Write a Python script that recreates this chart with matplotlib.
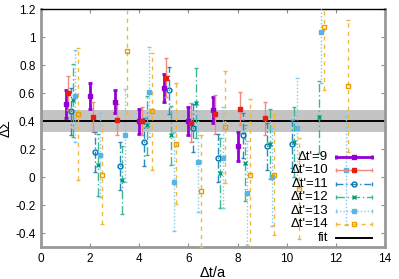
import numpy as np
import matplotlib
matplotlib.use("Agg")
import matplotlib.pyplot as plt

plt.rcParams["font.family"] = ["Liberation Sans", "DejaVu Sans"]
plt.rcParams["font.size"] = 8.5

# series values (Δt starts at 1 for every series)
dt9_val = [0.52, 0.58, 0.54, 0.40, 0.64, 0.40, 0.48, 0.22]
dt9_err = [0.10, 0.09, 0.08, 0.09, 0.10, 0.10, 0.09, 0.10]
dt10_val = [0.60, 0.43, 0.41, 0.40, 0.71, 0.39, 0.45, 0.49, 0.42]
dt10_err = [0.12, 0.11, 0.11, 0.10, 0.14, 0.14, 0.14, 0.12, 0.12]
dt11_val = [0.47, 0.18, 0.08, 0.25, 0.62, 0.35, 0.14, 0.30, 0.22, 0.24]
dt11_err = [0.17, 0.14, 0.17, 0.17, 0.17, 0.17, 0.17, 0.16, 0.17, 0.17]
dt12_val = [0.55, 0.09, -0.02, 0.37, 0.30, 0.53, 0.03, 0.10, 0.24, 0.25, 0.43]
dt12_err = [0.26, 0.22, 0.24, 0.21, 0.21, 0.25, 0.25, 0.27, 0.25, 0.25, 0.26]
dt13_val = [0.58, 0.16, 0.30, 0.61, -0.03, 0.11, 0.14, -0.11, 0.00, 0.35, 1.04, 0.05]
dt13_err = [0.33, 0.30, 0.33, 0.32, 0.35, 0.36, 0.36, 0.37, 0.35, 0.36, 0.37, 0.39]
dt14_val = [0.45, 0.02, 0.90, 0.47, 0.24, -0.10, 0.36, 0.02, 0.02, -0.08, 1.07, 0.65]
dt14_err = [0.47, 0.35, 0.45, 0.42, 0.43, 0.40, 0.40, 0.54, 0.43, 0.36, 0.45, 0.47]

FIT = 0.40
FIT_ERR = 0.08

labels = ["Δt'=9", "Δt'=10", "Δt'=11", "Δt'=12", "Δt'=13", "Δt'=14"]
values = [dt9_val, dt10_val, dt11_val, dt12_val, dt13_val, dt14_val]
errors = [dt9_err, dt10_err, dt11_err, dt12_err, dt13_err, dt14_err]

# style per series: color, errbar color, marker, filled, linestyle, linewidth
styles = [
    dict(c="#9400d3", ec="#9400d3", m="s", ms=3.5, fill=True, ls="-", lw=2.0),
    dict(c="#e51e10", ec="#f08a80", m="s", ms=2.8, fill=True, ls="-", lw=1.0),
    dict(c="#0072b2", ec="#2a88c0", m="o", ms=3.5, fill=False, ls=(0, (5, 2, 1, 2)), lw=1.0),
    dict(c="#009e73", ec="#3cb890", m="x", ms=3.3, fill=False, ls=(0, (6, 2, 1, 2)), lw=1.0),
    dict(c="#56b4e9", ec="#80c8f0", m="s", ms=3.0, fill=True, ls=(0, (1, 1.5)), lw=1.0),
    dict(c="#e69f00", ec="#f0b840", m="s", ms=3.5, fill=False, ls=(0, (3, 3)), lw=1.0),
]


def main() -> int:
    fig = plt.figure(figsize=(3.99, 2.79), dpi=100)
    ax = fig.add_axes([0.1028, 0.1136, 0.8622, 0.8531])

    ax.axhspan(FIT - FIT_ERR, FIT + FIT_ERR, color="#c4c4c4", zorder=1, lw=0)
    ax.axhline(FIT, color="black", lw=1.4, zorder=2)

    for k, (vals, errs, st) in enumerate(zip(values, errors, styles)):
        x = np.arange(1, len(vals) + 1) + 0.1 * k
        eb = ax.errorbar(x, vals, yerr=errs, fmt="none", ecolor=st["ec"],
                         elinewidth=st["lw"], capsize=1.7, capthick=st["lw"], zorder=3)
        eb[2][0].set_linestyle(st["ls"])
        face = st["c"] if st["fill"] else "none"
        ax.plot(x, vals, ls="none", marker=st["m"], ms=st["ms"], mfc=face,
                mec=st["c"], mew=1.0, zorder=4)

    ax.set_xlim(0, 14)
    ax.set_ylim(-0.5, 1.2)
    ax.set_xticks(np.arange(0, 15, 2))
    ax.set_yticks(np.arange(-0.4, 1.21, 0.2))
    ax.set_yticklabels(["-0.4", "-0.2", "0", "0.2", "0.4", "0.6", "0.8", "1", "1.2"])
    ax.tick_params(direction="in", length=3, color="#909090", top=True, right=True,
                   labelsize=8.5, pad=4)
    for side in ["left", "bottom", "right"]:
        ax.spines[side].set_color("#999999")
        ax.spines[side].set_linewidth(2)
    ax.spines["top"].set_color("black")
    ax.spines["top"].set_linewidth(1)

    ax.set_xlabel("Δt/a", fontsize=10.5, labelpad=1)
    ax.set_ylabel("ΔΣ", fontsize=10)
    ax.yaxis.set_label_coords(-0.082, 0.5)

    # gnuplot-like key in the lower right
    row_y = [0.381, 0.324, 0.268, 0.211, 0.154, 0.098, 0.041]
    x_text, x0, x1 = 0.834, 0.858, 0.963
    xm = (x0 + x1) / 2
    for k, (lab, st) in enumerate(zip(labels, styles)):
        y = row_y[k]
        ax.text(x_text, y, lab, transform=ax.transAxes, ha="right", va="center",
                fontsize=9.5, zorder=6)
        ax.plot([x0, x1], [y, y], transform=ax.transAxes, color=st["ec"],
                ls=st["ls"], lw=st["lw"], zorder=5, clip_on=False)
        ax.plot([x0, x1], [y, y], transform=ax.transAxes, ls="none", marker="|",
                ms=3.5, mec=st["ec"], mew=st["lw"], zorder=5, clip_on=False)
        face = st["c"] if st["fill"] else "none"
        ax.plot([xm], [y], transform=ax.transAxes, ls="none", marker=st["m"],
                ms=st["ms"], mfc=face, mec=st["c"], mew=1.0, zorder=5)
    y = row_y[6]
    ax.text(x_text, y, "fit", transform=ax.transAxes, ha="right", va="center",
            fontsize=9.5, zorder=6)
    ax.plot([x0, x1], [y, y], transform=ax.transAxes, color="black", lw=1.4, zorder=5)

    fig.savefig("out.png", dpi=100)
    plt.close(fig)
    return 0


if __name__ == "__main__":
    raise SystemExit(main())
